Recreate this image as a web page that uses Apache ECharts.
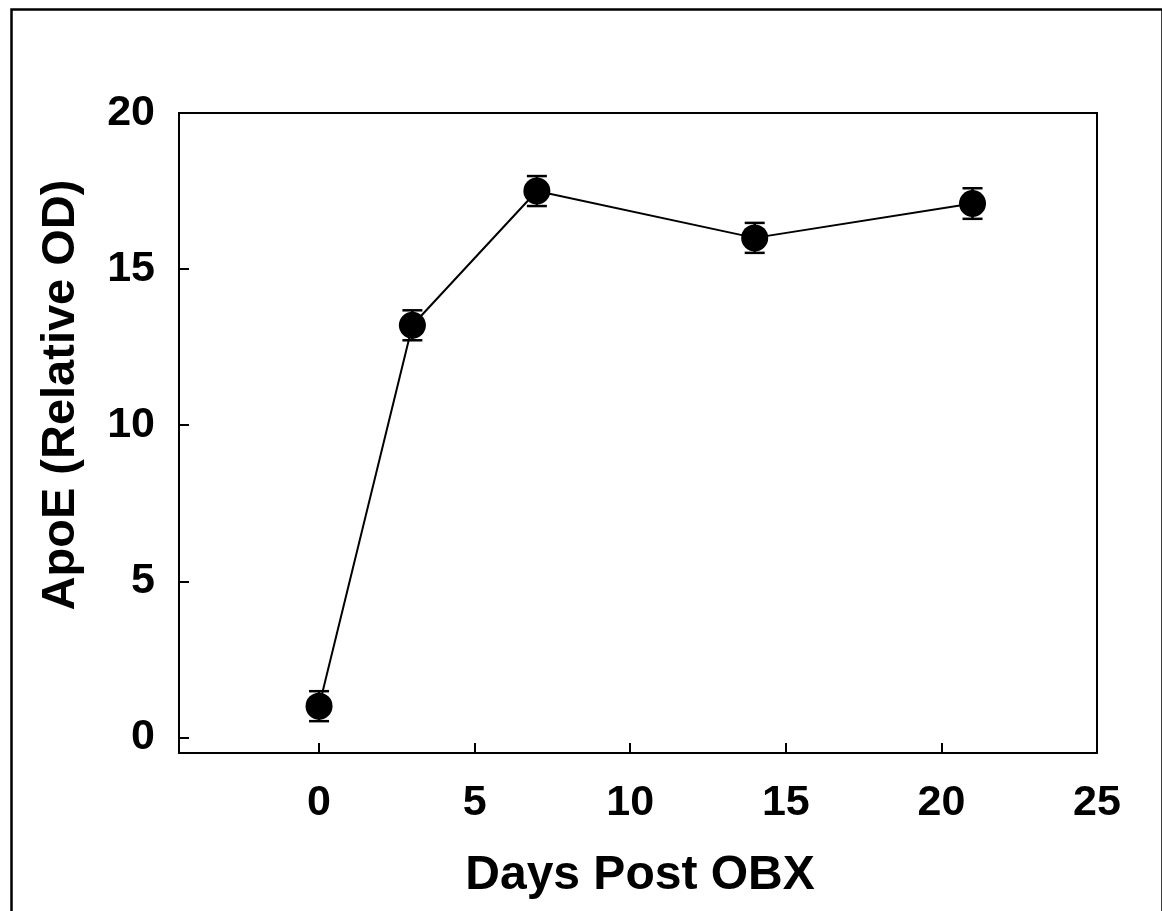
<!DOCTYPE html>
<html>
<head>
<meta charset="utf-8">
<title>ApoE vs Days Post OBX</title>
<script src="https://cdn.jsdelivr.net/npm/echarts@6/dist/echarts.min.js"></script>
<style>
  html, body { margin: 0; padding: 0; background: #fff; }
  #chart { width: 1162px; height: 911px; }
</style>
</head>
<body>
<div id="chart"></div>
<script>
// data
const days = [0, 3, 7, 14, 21];
const apoe = [1.0, 13.2, 17.5, 16.0, 17.1];
const sem = [0.48, 0.48, 0.48, 0.48, 0.49];
const xTicks = [0, 5, 10, 15, 20, 25];
const yTicks = [0, 5, 10, 15, 20];

const font = 'Liberation Sans, Arial, Helvetica, sans-serif';

const points = days.map((d, i) => [d, apoe[i]]);
const bars = days.map((d, i) => [d, apoe[i] - sem[i], apoe[i] + sem[i]]);

const chart = echarts.init(document.getElementById('chart'));

chart.setOption({
  animation: false,
  backgroundColor: '#fff',
  grid: { left: 179, top: 113, right: 65, bottom: 158, show: true, borderColor: '#000', borderWidth: 2 },
  xAxis: {
    type: 'value',
    min: -4.5,
    max: 25,
    splitLine: { show: false },
    axisLine: { onZero: false, lineStyle: { color: '#000', width: 2 } },
    axisTick: { inside: true, length: 10, lineStyle: { color: '#000', width: 2 }, customValues: xTicks },
    axisLabel: { customValues: xTicks, color: '#000', fontFamily: font, fontWeight: 'bold', fontSize: 43, margin: 29 }
  },
  yAxis: {
    type: 'value',
    min: -0.5,
    max: 20,
    splitLine: { show: false },
    axisLine: { show: true, onZero: false, lineStyle: { color: '#000', width: 2 } },
    axisTick: { show: true, inside: true, length: 10, lineStyle: { color: '#000', width: 2 }, customValues: yTicks },
    axisLabel: { customValues: yTicks, color: '#000', fontFamily: font, fontWeight: 'bold', fontSize: 43, margin: 24 }
  },
  graphic: [
    { type: 'rect', left: 9, top: 7, shape: { width: 1151, height: 920 }, style: { fill: 'none', stroke: '#000', lineWidth: 2.5 }, z: 100 },
    { type: 'text', x: 640, y: 876, style: { text: 'Days Post OBX', font: 'bold 48px ' + font, fill: '#000', textAlign: 'center', textVerticalAlign: 'middle' } },
    { type: 'text', x: 61, y: 395, rotation: Math.PI / 2, style: { text: 'ApoE (Relative OD)', font: 'bold 47px ' + font, fill: '#000', textAlign: 'center', textVerticalAlign: 'middle' } }
  ],
  series: [
    {
      type: 'custom',
      data: bars,
      renderItem: function (params, api) {
        const x = api.value(0);
        const lo = api.coord([x, api.value(1)]);
        const hi = api.coord([x, api.value(2)]);
        const half = 10;
        const st = { stroke: '#000', lineWidth: 2.5 };
        return {
          type: 'group',
          children: [
            { type: 'line', shape: { x1: lo[0], y1: lo[1], x2: hi[0], y2: hi[1] }, style: st },
            { type: 'line', shape: { x1: lo[0] - half, y1: lo[1], x2: lo[0] + half, y2: lo[1] }, style: st },
            { type: 'line', shape: { x1: hi[0] - half, y1: hi[1], x2: hi[0] + half, y2: hi[1] }, style: st }
          ]
        };
      },
      z: 3
    },
    {
      type: 'line',
      data: points,
      symbol: 'circle',
      symbolSize: 27,
      lineStyle: { color: '#000', width: 2 },
      itemStyle: { color: '#000' },
      z: 4
    }
  ]
});
</script>
</body>
</html>
